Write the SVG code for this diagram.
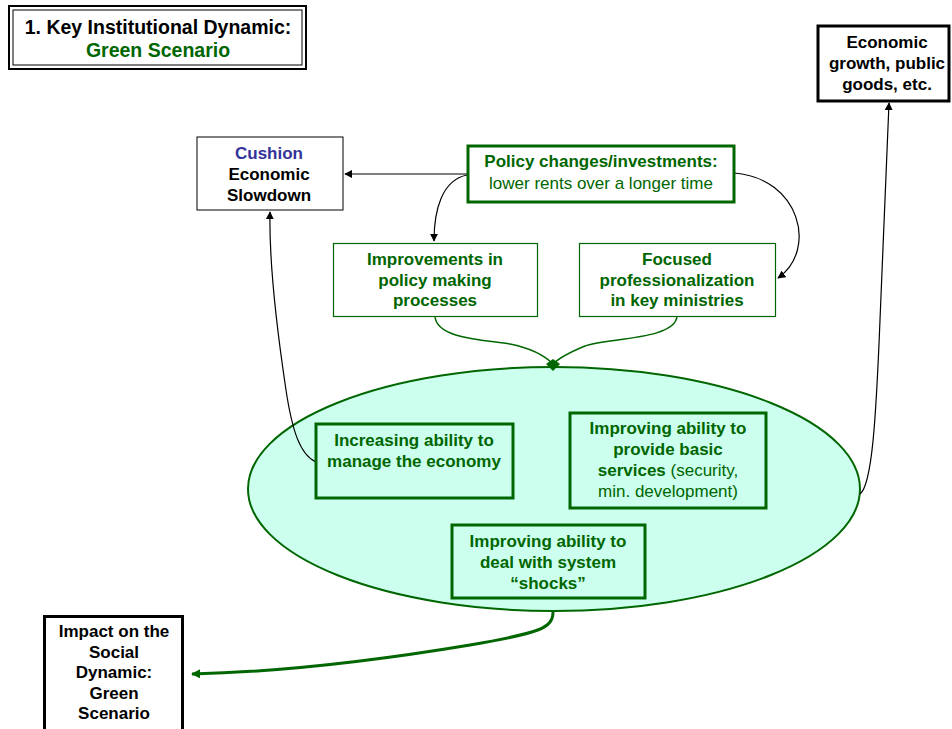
<svg xmlns="http://www.w3.org/2000/svg" width="952" height="729" viewBox="0 0 952 729">
  <style>
    text { font-family: "Liberation Sans", Arial, sans-serif; font-size: 17px; text-anchor: middle; }
    .b { font-weight: bold; }
    .k { fill: #000000; }
    .g { fill: #006600; }
    .blue { fill: #333399; }
    .kbox { fill: #ffffff; stroke: #000000; }
    .gbox { fill: #ffffff; stroke: #006600; }
    .ibox { fill: none; stroke: #006600; stroke-width: 3; }
    .conn { fill: none; stroke: #000000; stroke-width: 1.2; }
    .gconn { fill: none; stroke: #006600; stroke-width: 1.5; }
  </style>
  <defs>
    <marker id="arrowK" viewBox="0 0 10 10" refX="9" refY="5" markerWidth="8" markerHeight="8" markerUnits="userSpaceOnUse" orient="auto">
      <path d="M0,0 L10,5 L0,10 z" fill="#000000"/>
    </marker>
    <marker id="arrowG" viewBox="0 0 10 10" refX="9" refY="5" markerWidth="9" markerHeight="9" markerUnits="userSpaceOnUse" orient="auto">
      <path d="M0,0 L10,5 L0,10 z" fill="#006600"/>
    </marker>
  </defs>

  <rect width="952" height="729" fill="#ffffff"/>

  <!-- Title -->
  <g id="title">
    <rect x="9" y="6" width="297" height="63" fill="#ffffff" stroke="#000000" stroke-width="2"/>
    <rect x="13" y="10" width="289" height="55" fill="none" stroke="#000000" stroke-width="1"/>
    <text x="158" y="34" class="b k" style="font-size:19.5px">1. Key Institutional Dynamic:</text>
    <text x="158" y="57" class="b g" style="font-size:19.5px">Green Scenario</text>
  </g>

  <!-- Central ellipse -->
  <g id="capacity-ellipse">
    <ellipse cx="554" cy="489" rx="306" ry="122" fill="#ccffee" stroke="#006600" stroke-width="2"/>
  </g>

  <!-- Connectors -->
  <g id="connectors">
    <path class="conn" d="M467,174 L345,174" marker-end="url(#arrowK)"/>
    <path class="conn" d="M467,175 C442,180 434,210 434,241" marker-end="url(#arrowK)"/>
    <path class="conn" d="M734,173 C800,178 818,250 778,278" marker-end="url(#arrowK)"/>
    <path class="gconn" d="M435,316 C436,340 490,340 510,344 C535,349 547,358 553,364"/>
    <path class="gconn" d="M677,316 C676,340 605,338 585,346 C568,353 558,359 553,364"/>
    <polygon points="546,364 553,359 560,364 553,371" fill="#006600"/>
    <path class="conn" d="M316,462 C300,455 292,430 286,390 C277,330 269,260 270,212" marker-end="url(#arrowK)"/>
    <path class="conn" d="M860,494 C872,485 876,420 880,320 C884,220 887,150 889,103" marker-end="url(#arrowK)"/>
    <path d="M553,612 C553,628 540,633 470,645 C380,660 280,672 192,674" fill="none" stroke="#006600" stroke-width="3" marker-end="url(#arrowG)"/>
  </g>

  <!-- Outcome: economic growth -->
  <g id="economic-growth">
    <rect x="818" y="26" width="131" height="75" class="kbox" stroke-width="3"/>
    <text x="887" y="48" class="b k">Economic</text>
    <text x="887" y="69" class="b k">growth, public</text>
    <text x="887" y="90" class="b k">goods, etc.</text>
  </g>

  <!-- Cushion economic slowdown -->
  <g id="cushion">
    <rect x="197" y="137" width="146" height="73" class="kbox" stroke-width="1"/>
    <text x="269" y="159" class="b blue">Cushion</text>
    <text x="269" y="180" class="b k">Economic</text>
    <text x="269" y="201" class="b k">Slowdown</text>
  </g>

  <!-- Policy changes -->
  <g id="policy-changes">
    <rect x="468" y="146" width="266" height="56" class="gbox" stroke-width="3"/>
    <text x="601" y="167" class="b g">Policy changes/investments:</text>
    <text x="601" y="189" class="g">lower rents over a longer time</text>
  </g>

  <!-- Improvements in policy making -->
  <g id="policy-making">
    <rect x="333.5" y="243.5" width="204" height="73" class="gbox" stroke-width="1.2"/>
    <text x="435" y="265" class="b g">Improvements in</text>
    <text x="435" y="286" class="b g">policy making</text>
    <text x="435" y="306" class="b g">processes</text>
  </g>

  <!-- Focused professionalization -->
  <g id="professionalization">
    <rect x="579.5" y="243.5" width="196" height="73" class="gbox" stroke-width="1.2"/>
    <text x="677" y="265" class="b g">Focused</text>
    <text x="677" y="286" class="b g">professionalization</text>
    <text x="677" y="306" class="b g">in key ministries</text>
  </g>

  <!-- Manage the economy -->
  <g id="manage-economy">
    <rect x="316" y="424" width="197" height="74" class="ibox"/>
    <text x="414" y="446" class="b g">Increasing ability to</text>
    <text x="414" y="467" class="b g">manage the economy</text>
  </g>

  <!-- Basic services -->
  <g id="basic-services">
    <rect x="570" y="413" width="196" height="95" class="ibox"/>
    <text x="668" y="434" class="b g">Improving ability to</text>
    <text x="668" y="455" class="b g">provide basic</text>
    <text x="668" y="476" class="g"><tspan class="b">services</tspan> (security,</text>
    <text x="668" y="497" class="g">min. development)</text>
  </g>

  <!-- System shocks -->
  <g id="system-shocks">
    <rect x="452" y="525" width="193" height="73" class="ibox"/>
    <text x="548" y="547" class="b g">Improving ability to</text>
    <text x="548" y="568" class="b g">deal with system</text>
    <text x="548" y="589" class="b g">“shocks”</text>
  </g>

  <!-- Social dynamic impact -->
  <g id="social-impact">
    <rect x="44.5" y="616.5" width="138" height="120" class="kbox" stroke-width="3"/>
    <text x="114" y="637" class="b k">Impact on the</text>
    <text x="114" y="658" class="b k">Social</text>
    <text x="114" y="678" class="b k">Dynamic:</text>
    <text x="114" y="699" class="b k">Green</text>
    <text x="114" y="719" class="b k">Scenario</text>
  </g>
</svg>
